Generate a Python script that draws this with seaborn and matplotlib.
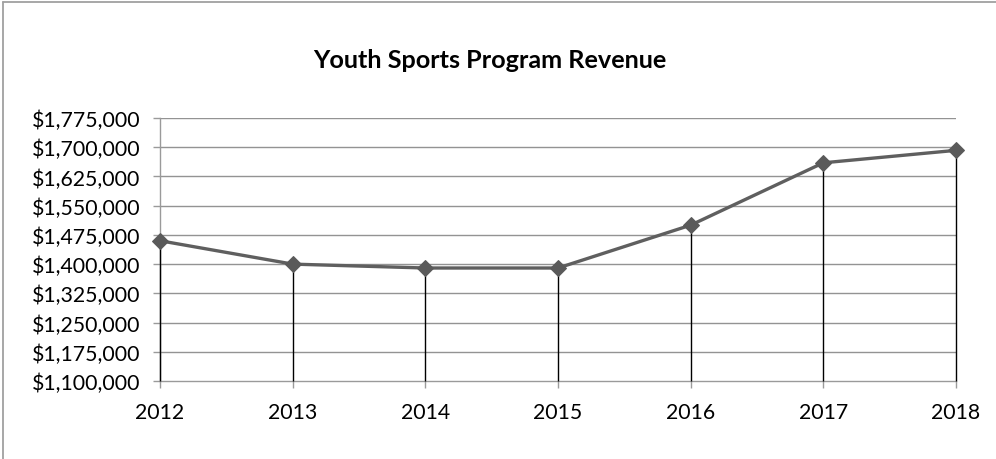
import matplotlib
matplotlib.use("Agg")
import matplotlib.pyplot as plt
from matplotlib.lines import Line2D
from matplotlib.ticker import FuncFormatter
import seaborn as sns
import pandas as pd

years = [2012, 2013, 2014, 2015, 2016, 2017, 2018]
revenue = [1460000, 1400000, 1390000, 1390000, 1500000, 1660000, 1692000]
y_ticks = [1100000, 1175000, 1250000, 1325000, 1400000, 1475000,
           1550000, 1625000, 1700000, 1775000]
title = "Youth Sports Program Revenue"

sns.set_theme(style="white")
plt.rcParams["font.family"] = ["Lato", "DejaVu Sans"]

df = pd.DataFrame({"Year": years, "Revenue": revenue})

fig = plt.figure(figsize=(9.96, 4.6), dpi=100)
ax = fig.add_axes([160 / 996, 1 - 382 / 460, (956 - 160) / 996, (382 - 119) / 460])

ymin, ymax = y_ticks[0], y_ticks[-1]

# horizontal gridlines
for t in y_ticks[1:]:
    ax.axhline(t, color="#939393", lw=1.0, zorder=1)

# drop lines from each point down to the category axis
ax.vlines(df["Year"], ymin, df["Revenue"], color="black", lw=1.0,
          zorder=3, clip_on=False)

sns.lineplot(data=df, x="Year", y="Revenue", ax=ax, color="#5f5f5f",
             lw=2.4, marker="D", markersize=8.5, markeredgecolor="#5a5a5a",
             markerfacecolor="#5a5a5a", zorder=4, clip_on=False)

ax.set_xlim(years[0], years[-1])
ax.set_ylim(ymin, ymax)
ax.set_xticks(years)
ax.set_xticklabels([str(y) for y in years])
ax.set_yticks(y_ticks)
ax.yaxis.set_major_formatter(FuncFormatter(lambda v, p: f"${v:,.0f}"))
ax.set_xlabel("")
ax.set_ylabel("")

for side in ["top", "right"]:
    ax.spines[side].set_visible(False)
for side in ["left", "bottom"]:
    ax.spines[side].set_color("#9a9a9a")
    ax.spines[side].set_linewidth(1.0)

ax.tick_params(axis="both", which="major", direction="out", length=5,
               width=1.0, color="#9a9a9a", labelsize=15.3, labelcolor="black",
               bottom=True, left=True)
ax.tick_params(axis="y", pad=9)
ax.tick_params(axis="x", pad=10)
ax.grid(False)

fig.text(490 / 996, 1 - 60 / 460, title, ha="center", va="center",
         fontsize=18.2, fontweight="bold", color="black")

# chart area border
fig.add_artist(Line2D([3 / 996, 3 / 996], [0, 1 - 3 / 460], color="#a0a0a0", lw=1.3))
fig.add_artist(Line2D([3 / 996, 1], [1 - 3 / 460, 1 - 3 / 460], color="#a0a0a0", lw=1.3))

fig.savefig("out.png", dpi=100)
